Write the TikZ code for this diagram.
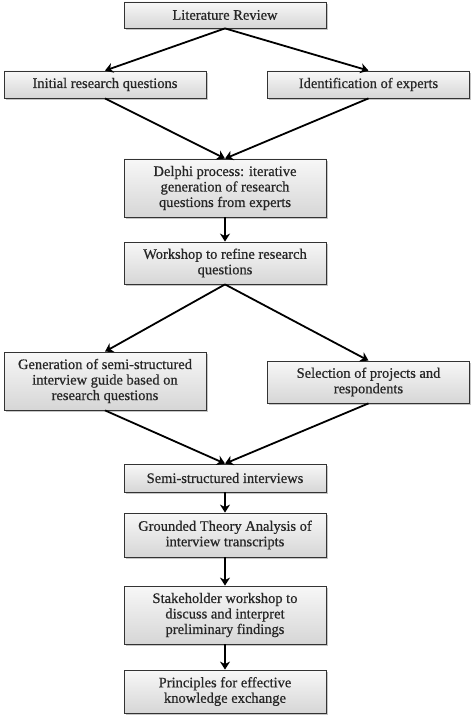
\documentclass[tikz,border=0pt]{standalone}
\usepackage{fontspec}
\newfontfamily\boxfont[FakeBold=0.6]{Liberation Serif}
\usepackage{xcolor}
\usepackage{tikz}
\usetikzlibrary{arrows.meta,shadows}

\begin{document}
\begin{tikzpicture}[x=1pt,y=-1pt,
		box/.style={draw=black!80,line width=0.8pt,top color=gray!6,bottom color=gray!32,
			drop shadow={shadow xshift=1.8pt,shadow yshift=-1.8pt,opacity=0.45},
			minimum width=202pt,inner sep=2pt,align=center,text=black!85,
			font=\boxfont\fontsize{14.5}{15.5}\selectfont},
		arr/.style={line width=1.8pt,-{Stealth[length=8pt,width=10pt,inset=2.5pt]}}]
			\useasboundingbox (0,0) rectangle (474,719);
			% Vẽ các ô
			\node [box,minimum height=26pt] (lit) at (225,15) {Literature Review};
			\node [box,minimum height=27pt] (irq) at (105,84.5) {Initial research questions};
			\node [box,minimum height=27pt] (ide) at (368.5,84.5) {Identification of experts};
			\node [box,minimum height=58pt] (del) at (225,188) {Delphi process: iterative\\generation of research\\questions from experts};
			\node [box,minimum height=42pt] (wks) at (225,263) {Workshop to refine research\\questions};
			\node [box,minimum height=58pt] (gen) at (105,381) {Generation of semi-structured\\interview guide based on\\research questions};
			\node [box,minimum height=42pt] (sel) at (368.5,382) {Selection of projects and\\respondents};
			\node [box,minimum height=28pt] (ssi) at (225,478) {Semi-structured interviews};
			\node [box,minimum height=44pt] (gta) at (225,535) {Grounded Theory Analysis of\\interview transcripts};
			\node [box,minimum height=58pt] (skw) at (225,615) {Stakeholder workshop to\\discuss and interpret\\preliminary findings};
			\node [box,minimum height=43pt] (pke) at (225,691.5) {Principles for effective\\knowledge exchange};
			% Vẽ mũi tên
			\draw [arr] (lit.south) -- (irq.north);
			\draw [arr] (lit.south) -- (ide.north);
			\draw [arr] (irq.south) -- (del.north);
			\draw [arr] (ide.south) -- (del.north);
			\draw [arr] (del.south) -- (wks.north);
			\draw [arr] (wks.south) -- (gen.north);
			\draw [arr] (wks.south) -- (sel.north);
			\draw [arr] (gen.south) -- (ssi.north);
			\draw [arr] (sel.south) -- (ssi.north);
			\foreach \a/\b in {ssi/gta,gta/skw,skw/pke}
			\draw [arr] (\a.south) -- (\b.north);
		\end{tikzpicture}
\end{document}
